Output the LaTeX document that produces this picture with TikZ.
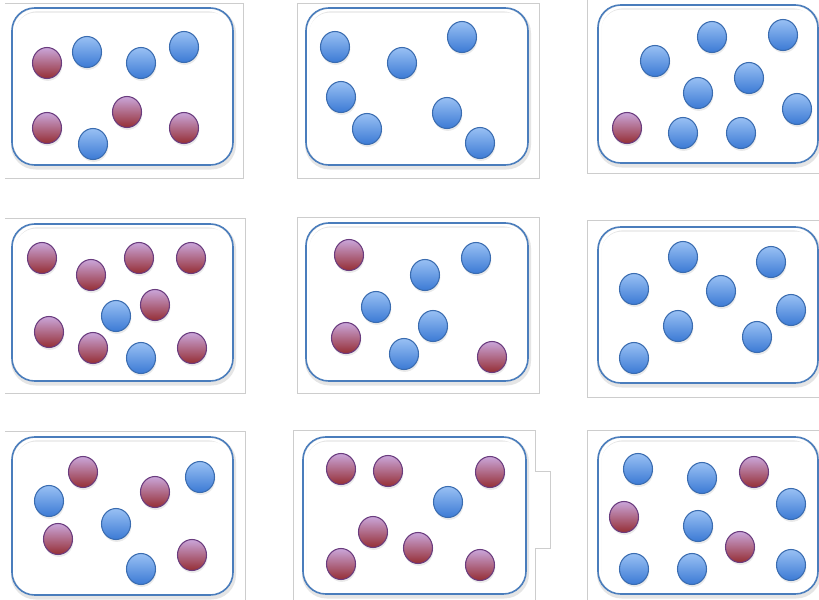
\documentclass[tikz,border=0pt]{standalone}
\usetikzlibrary{shapes.geometric,shadows}
\definecolor{blueTop}{HTML}{98C0F4}
\definecolor{blueBot}{HTML}{3C7AD4}
\definecolor{blueEdge}{HTML}{3A6CB0}
\definecolor{redTop}{HTML}{CAA6DA}
\definecolor{redBot}{HTML}{952E34}
\definecolor{redEdge}{HTML}{6A3C7E}
\definecolor{panelEdge}{HTML}{4A7DBC}
\definecolor{frameGrey}{HTML}{CDCDCD}
\begin{document}
\begin{tikzpicture}[x=0.75pt,y=-0.75pt,
  ball/.style={ellipse, minimum width=21.75pt, minimum height=23.25pt, inner sep=0pt, line width=0.8pt,
    drop shadow={shadow xshift=0.6pt, shadow yshift=-1.8pt, opacity=0.16}},
  bb/.style={ball, draw=blueEdge, top color=blueTop, bottom color=blueBot},
  rb/.style={ball, draw=redEdge, top color=redTop, bottom color=redBot},
  box/.style={draw=panelEdge, line width=1.2pt, rounded corners=17pt},
  boxshade/.style={draw=black!10, line width=3pt, rounded corners=17pt},
  frame/.style={draw=frameGrey, line width=0.7pt}]
\useasboundingbox (0,0) rectangle (819,600);
\fill[white] (0,0) rectangle (819,600);

% grey outer frames
\draw[frame] (5,3) -- (243,3) -- (243,178) -- (5,178);
\draw[frame] (297,3) rectangle (539,178);
\draw[frame] (587,0) -- (587,173) -- (819,173);
\draw[frame] (5,218) -- (245,218) -- (245,393) -- (5,393);
\draw[frame] (297,217) rectangle (539,393);
\draw[frame] (819,220) -- (587,220) -- (587,397) -- (819,397);
\draw[frame] (5,431) -- (245,431) -- (245,600);
\draw[frame] (293,600) -- (293,430) -- (535,430) -- (535,471) -- (550,471) -- (550,548) -- (535,548) -- (535,600);
\draw[frame] (587,600) -- (587,430) -- (819,430);

% inner rounded panels (soft shade then outline)
\foreach \a/\b/\c/\d in {12/8/233/165, 306/8/528/165, 598/5/818/163,
                         12/224/233/381, 306/223/528/381, 598/227/818/383,
                         12/437/233/595, 303/437/526/594, 598/437/818/594}{
  \draw[boxshade] (\a+1,\b+2.5) rectangle (\c+1,\d+2.5);
  \draw[white, line width=2pt, rounded corners=17pt] (\a+2,\b+2) rectangle (\c-2,\d-2);
  \draw[box] (\a,\b) rectangle (\c,\d);
}

% panel 1
\node[rb] (a1) at (47,63) {};
\node[bb] (a2) at (87,52) {};
\node[bb] (a3) at (141,63) {};
\node[bb] (a4) at (184,47) {};
\node[rb] (a5) at (47,128) {};
\node[bb] (a6) at (93,144) {};
\node[rb] (a7) at (127,112) {};
\node[rb] (a8) at (184,128) {};

% panel 2
\node[bb] (b1) at (335,47) {};
\node[bb] (b2) at (402,63) {};
\node[bb] (b3) at (462,37) {};
\node[bb] (b4) at (341,97) {};
\node[bb] (b5) at (367,129) {};
\node[bb] (b6) at (447,113) {};
\node[bb] (b7) at (480,143) {};

% panel 3
\node[bb] (c1) at (655,61) {};
\node[bb] (c2) at (712,37) {};
\node[bb] (c3) at (783,35) {};
\node[bb] (c4) at (749,78) {};
\node[bb] (c5) at (698,93) {};
\node[bb] (c6) at (797,109) {};
\node[rb] (c7) at (627,128) {};
\node[bb] (c8) at (683,133) {};
\node[bb] (c9) at (741,133) {};

% panel 4
\node[rb] (d1) at (42,258) {};
\node[rb] (d2) at (91,275) {};
\node[rb] (d3) at (139,258) {};
\node[rb] (d4) at (191,258) {};
\node[rb] (d5) at (155,305) {};
\node[bb] (d6) at (116,316) {};
\node[rb] (d7) at (49,332) {};
\node[rb] (d8) at (93,348) {};
\node[bb] (d9) at (141,358) {};
\node[rb] (d10) at (192,348) {};

% panel 5
\node[rb] (e1) at (349,255) {};
\node[bb] (e2) at (425,275) {};
\node[bb] (e3) at (476,258) {};
\node[bb] (e4) at (376,307) {};
\node[bb] (e5) at (433,326) {};
\node[rb] (e6) at (346,338) {};
\node[bb] (e7) at (404,354) {};
\node[rb] (e8) at (492,357) {};

% panel 6
\node[bb] (f1) at (683,257) {};
\node[bb] (f2) at (771,262) {};
\node[bb] (f3) at (634,289) {};
\node[bb] (f4) at (721,291) {};
\node[bb] (f5) at (791,310) {};
\node[bb] (f6) at (678,326) {};
\node[bb] (f7) at (757,337) {};
\node[bb] (f8) at (634,358) {};

% panel 7
\node[rb] (g1) at (83,472) {};
\node[bb] (g2) at (200,477) {};
\node[bb] (g3) at (49,501) {};
\node[rb] (g4) at (155,492) {};
\node[bb] (g5) at (116,524) {};
\node[rb] (g6) at (58,539) {};
\node[rb] (g7) at (192,555) {};
\node[bb] (g8) at (141,569) {};

% panel 8
\node[rb] (h1) at (341,469) {};
\node[rb] (h2) at (388,471) {};
\node[rb] (h3) at (490,472) {};
\node[bb] (h4) at (448,502) {};
\node[rb] (h5) at (373,532) {};
\node[rb] (h6) at (418,548) {};
\node[rb] (h7) at (341,564) {};
\node[rb] (h8) at (480,565) {};

% panel 9
\node[bb] (i1) at (638,469) {};
\node[bb] (i2) at (702,478) {};
\node[rb] (i3) at (754,472) {};
\node[bb] (i4) at (791,504) {};
\node[rb] (i5) at (624,517) {};
\node[bb] (i6) at (698,526) {};
\node[rb] (i7) at (740,547) {};
\node[bb] (i8) at (634,569) {};
\node[bb] (i9) at (692,569) {};
\node[bb] (i10) at (791,565) {};
\end{tikzpicture}
\end{document}
